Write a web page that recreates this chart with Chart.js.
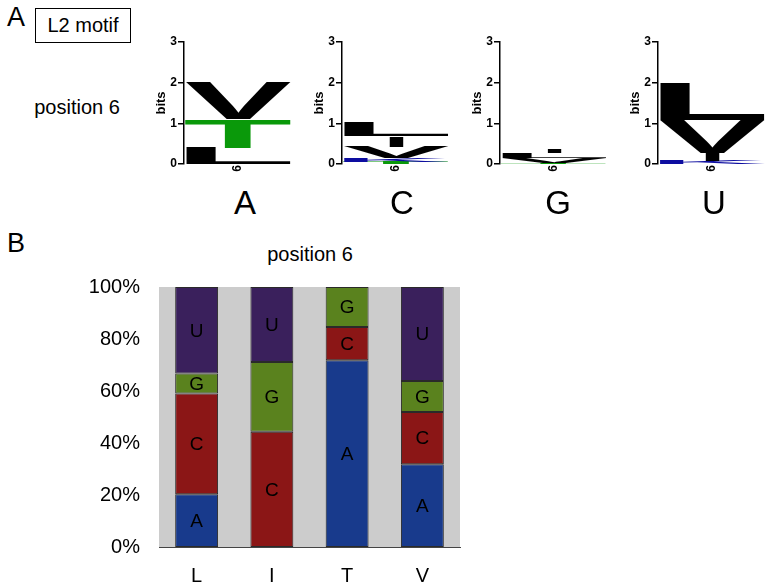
<!DOCTYPE html>
<html>
<head>
<meta charset="utf-8">
<script src="https://cdn.jsdelivr.net/npm/chart.js@4.4.0/dist/chart.umd.min.js"></script>
<style>
body { margin: 0; background: #fff; }
#page { position: relative; width: 770px; height: 586px; overflow: hidden; font-family: "Liberation Sans", Arial, sans-serif; }
.txt { position: absolute; color: #000; white-space: nowrap; line-height: 1; transform: translate(-50%, -50%); }
canvas { position: absolute; }
</style>
</head>
<body>
<div id="page">
  <div class="txt" style="left:16px;top:17px;font-size:27px">A</div>
  <div style="position:absolute;left:35px;top:8px;width:94px;height:33px;border:1px solid #000;font-size:20px;line-height:33px;text-align:center">L2 motif</div>
  <div class="txt" style="left:77px;top:107px;font-size:20px">position 6</div>
  <div class="txt" style="left:16px;top:243px;font-size:27px">B</div>
  <div class="txt" style="left:310px;top:254px;font-size:20px">position 6</div>
  <canvas id="bars" width="420" height="321" style="left:60px;top:265px"></canvas>
</div>
<script>
// panel B: share of each nucleotide (%) per amino acid
const codons = ['L', 'I', 'T', 'V'];
const fracA = [20.3, 0, 71.8, 31.8];
const fracC = [38.7, 44.3, 12.8, 20.1];
const fracG = [7.7, 26.9, 15.4, 11.9];
const fracU = [33.3, 28.8, 0, 36.2];
const yTicks = ['0%', '20%', '40%', '60%', '80%', '100%'];

// panel A: logo stacks (bottom to top), heights in bits
const logoPanels = ['A', 'C', 'G', 'U'];
const logoLetters = [
    ['L', 'T', 'V'],
    ['T', 'K', 'V', 'I', 'L'],
    ['T', 'V', 'L', 'I'],
    ['K', 'I', 'V', 'L']
];
const logoBits = [
    [0.4, 0.7, 0.9],
    [0.05, 0.1, 0.28, 0.25, 0.33],
    [0.03, 0.12, 0.11, 0.09],
    [0.08, 0.2, 0.8, 0.92]
];

const FONT = '"Liberation Sans", Arial, sans-serif';
const letterColor = { L: '#000', V: '#000', I: '#000', T: '#0a990a', K: '#0d0da0' };
const bigLetterX = [245, 402, 558, 714];

function drawGlyph(ctx, ch, color, x0, x1, yTop, yBot) {
    if (yBot - yTop < 0.5) return;
    ctx.save();
    ctx.font = 'bold 100px ' + FONT;
    ctx.textAlign = 'left';
    ctx.textBaseline = 'alphabetic';
    var m = ctx.measureText(ch);
    var gw = m.actualBoundingBoxLeft + m.actualBoundingBoxRight;
    var gh = m.actualBoundingBoxAscent + m.actualBoundingBoxDescent;
    ctx.translate(x0, yTop);
    ctx.scale((x1 - x0) / gw, (yBot - yTop) / gh);
    ctx.fillStyle = color;
    ctx.fillText(ch, m.actualBoundingBoxLeft, m.actualBoundingBoxAscent);
    ctx.restore();
}

function makeLogoPlugin(letters, bits) {
    return {
        id: 'logo',
        afterDatasetsDraw(chart) {
            var ctx = chart.ctx, area = chart.chartArea, y = chart.scales.y;
            var base = 0;
            letters.forEach(function (ch, k) {
                var lo = base, hi = base + bits[k];
                base = hi;
                var x0 = area.left + 1, x1 = area.right;
                if (ch === 'I') {
                    var c = (x0 + x1) / 2, w = (x1 - x0) * 0.14;
                    x0 = c - w / 2; x1 = c + w / 2;
                }
                drawGlyph(ctx, ch, letterColor[ch], x0, x1, y.getPixelForValue(hi), y.getPixelForValue(lo));
            });
        }
    };
}

var page = document.getElementById('page');
logoPanels.forEach(function (nt, i) {
    var axisX = 184 + 158 * i;
    var cv = document.createElement('canvas');
    cv.width = 160; cv.height = 150;
    cv.style.left = (axisX - 45) + 'px';
    cv.style.top = '30px';
    page.appendChild(cv);

    var big = document.createElement('div');
    big.className = 'txt';
    big.style.left = bigLetterX[i] + 'px';
    big.style.top = '202px';
    big.style.fontSize = '33px';
    big.textContent = nt;
    page.appendChild(big);

    new Chart(cv, {
        type: 'bar',
        data: { labels: ['6'], datasets: [] },
        options: {
            responsive: false,
            animation: false,
            layout: { padding: { left: 5, right: 7, top: 12, bottom: 0 } },
            plugins: { legend: { display: false }, tooltip: { enabled: false } },
            scales: {
                x: {
                    grid: { display: false, drawTicks: false },
                    border: { display: false },
                    ticks: { color: '#000', font: { family: FONT, size: 12, weight: 'bold' }, minRotation: 90, maxRotation: 90, padding: 1 },
                    afterFit: function (s) { s.height = 16; }
                },
                y: {
                    min: 0, max: 3,
                    grid: { display: true, drawOnChartArea: false, tickLength: 6, color: '#000', lineWidth: 1.5 },
                    border: { color: '#000', width: 1.5 },
                    ticks: { stepSize: 1, color: '#000', font: { family: FONT, size: 12, weight: 'bold' }, padding: 1 },
                    title: { display: true, text: 'bits', color: '#000', font: { family: FONT, size: 13, weight: 'bold' }, padding: { top: 10 } },
                    afterFit: function (s) { s.width = 40; }
                }
            }
        },
        plugins: [makeLogoPlugin(logoLetters[i], logoBits[i])]
    });
});

var plotBg = {
    id: 'plotBg',
    beforeDatasetsDraw(chart) {
        var a = chart.chartArea, ctx = chart.ctx;
        ctx.save();
        ctx.fillStyle = '#cccccc';
        ctx.fillRect(a.left, a.top, a.right - a.left, a.bottom - a.top);
        ctx.restore();
    }
};

var segLabels = {
    id: 'segLabels',
    afterDatasetsDraw(chart) {
        var ctx = chart.ctx;
        ctx.save();
        ctx.font = '19px ' + FONT;
        ctx.fillStyle = '#000';
        ctx.textAlign = 'center';
        ctx.textBaseline = 'middle';
        chart.data.datasets.forEach(function (ds, d) {
            chart.getDatasetMeta(d).data.forEach(function (bar, k) {
                if (!ds.data[k]) return;
                ctx.fillText(ds.label, bar.x, (bar.y + bar.base) / 2 + 1);
            });
        });
        ctx.restore();
    }
};

function seg(label, data, color) {
    return {
        label: label, data: data, backgroundColor: color,
        borderColor: '#2a2a2a',
        borderWidth: function (c) { return c.raw ? 1 : 0; },
        borderSkipped: false,
        categoryPercentage: 1, barPercentage: 0.57
    };
}

new Chart(document.getElementById('bars'), {
    type: 'bar',
    data: {
        labels: codons,
        datasets: [
            seg('A', fracA, '#183a8c'),
            seg('C', fracC, '#8b1616'),
            seg('G', fracG, '#5a821e'),
            seg('U', fracU, '#3a205c')
        ]
    },
    options: {
        responsive: false,
        animation: false,
        layout: { padding: { left: 0, right: 20, top: 22, bottom: 0 } },
        plugins: { legend: { display: false }, tooltip: { enabled: false } },
        scales: {
            x: {
                stacked: true,
                grid: { display: false, drawTicks: false },
                border: { display: true, color: '#444', width: 1 },
                ticks: { color: '#000', font: { family: FONT, size: 20 }, padding: 17 },
                afterFit: function (s) { s.height = 39; }
            },
            y: {
                stacked: true,
                min: 0, max: 100,
                grid: { display: false, drawTicks: false },
                border: { display: true, color: '#444', width: 1 },
                ticks: {
                    stepSize: 20, color: '#000', font: { family: FONT, size: 20 }, padding: 19,
                    callback: function (v) { return yTicks[v / 20]; }
                },
                afterFit: function (s) { s.width = 99; s.paddingTop = 12; s.paddingBottom = 12; }
            }
        }
    },
    plugins: [plotBg, segLabels]
});
</script>
</body>
</html>
